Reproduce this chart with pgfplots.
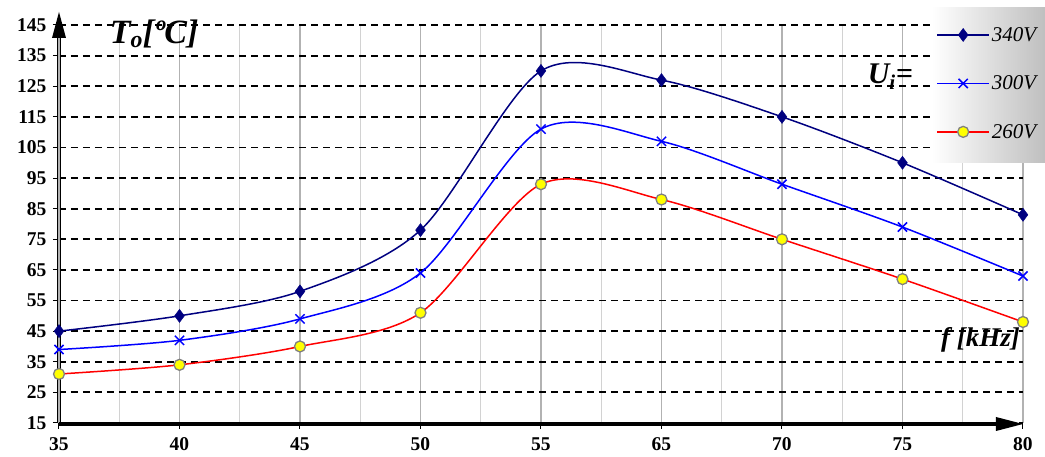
\documentclass[border=0pt]{standalone}
\usepackage{fontspec}
\setmainfont{Liberation Serif}
\usepackage{pgfplots}
\pgfplotsset{compat=1.18}
\usetikzlibrary{arrows.meta}
\definecolor{navyline}{RGB}{0,0,128}
\definecolor{blueline}{RGB}{0,0,255}
\definecolor{redline}{RGB}{255,0,0}
\definecolor{markyellow}{RGB}{255,255,0}
\begin{document}
\begin{tikzpicture}
\path[use as bounding box] (-59pt,-34pt) rectangle (986pt,423pt);
\begin{axis}[
  at={(0pt,0pt)}, anchor=south west,
  scale only axis, width=964pt, height=398pt,
  xmin=0, xmax=8, ymin=15, ymax=145,
  clip=false,
  axis line style={draw=none},
  xtick={0,...,8},
  xticklabels={35,40,45,50,55,65,70,75,80},
  minor x tick num=1,
  ytick={15,25,...,145},
  tick align=outside,
  xtick pos=left, ytick pos=left,
  major tick length=6pt, minor tick length=0pt,
  tick style={black, line width=1pt},
  xmajorgrids, xminorgrids, ymajorgrids,
  major grid style={gray!60, line width=1.3pt},
  minor grid style={gray!35, line width=1.3pt},
  y grid style={black, line width=1.8pt, dash pattern=on 7pt off 5pt},
  /pgf/number format/assume math mode=true,
  ticklabel style={font=\fontsize{19.5}{19.5}\selectfont\bfseries},
  xticklabel style={yshift=-5pt},
  yticklabel style={xshift=-3pt},
  legend cell align=left,
  legend image code/.code={\draw[mark repeat=2,mark phase=2] plot coordinates {(0pt,0pt) (26pt,0pt) (52pt,0pt)};},
  legend style={at={(axis description cs:0.910,1.0)}, anchor=north west,
    draw=none, fill=none, font=\fontsize{21}{21}\selectfont\itshape,
    row sep=29pt, inner sep=0pt},
]
% axes: double vertical axis with arrow, heavy horizontal axis with arrow
\draw[line width=1pt, double=gray!60, double distance=2pt]
  (rel axis cs:0,0) -- ([yshift=388pt]rel axis cs:0,0);
\fill ([yshift=411pt]rel axis cs:0,0) -- ++(-7pt,-26pt) -- ++(14pt,0pt) -- cycle;
\draw[line width=4.5pt] ([yshift=-1pt]rel axis cs:0,0) -- ([xshift=-24pt,yshift=-1pt]rel axis cs:1,0);
\fill ([yshift=-1pt]rel axis cs:1,0) -- ++(-27pt,7pt) -- ++(0pt,-14pt) -- cycle;

\addplot[navyline, line width=1.5pt, smooth, tension=0.5, mark=diamond*, mark size=6.5pt,
  mark options={fill=navyline, draw=navyline, line width=0.5pt}]
  coordinates {(0,45) (1,50) (2,58) (3,78) (4,130) (5,127) (6,115) (7,100) (8,83)};
\addlegendentry{340V}
\addplot[blueline, line width=1.5pt, smooth, tension=0.5, mark=x, mark size=6.5pt,
  mark options={draw=blueline, line width=1.5pt}]
  coordinates {(0,39) (1,42) (2,49) (3,64) (4,111) (5,107) (6,93) (7,79) (8,63)};
\addlegendentry{300V}
\addplot[redline, line width=1.5pt, smooth, tension=0.5, mark=*, mark size=5.5pt,
  mark options={fill=markyellow, draw=gray, line width=1.3pt}]
  coordinates {(0,31) (1,34) (2,40) (3,51) (4,93) (5,88) (6,75) (7,62) (8,48)};
\addlegendentry{260V}

% shaded legend panel
\shade[left color=white, right color=gray!50]
  ([xshift=873pt,yshift=260pt]rel axis cs:0,0) rectangle ([xshift=986pt,yshift=415pt]rel axis cs:0,0);

\node[anchor=base west, inner sep=0pt, font=\fontsize{34}{34}\selectfont\bfseries\itshape]
  at (axis cs:0.42,139) {T\textsubscript{o}[ºC]};
\node[anchor=base west, inner sep=0pt, font=\fontsize{30}{30}\selectfont\bfseries\itshape]
  at (axis cs:6.71,126) {U\textsubscript{i}=};
\node[anchor=base east, inner sep=0pt, font=\fontsize{27}{27}\selectfont\bfseries\itshape]
  at (axis cs:7.975,40) {f [kHz]};
\end{axis}
\end{tikzpicture}
\end{document}
